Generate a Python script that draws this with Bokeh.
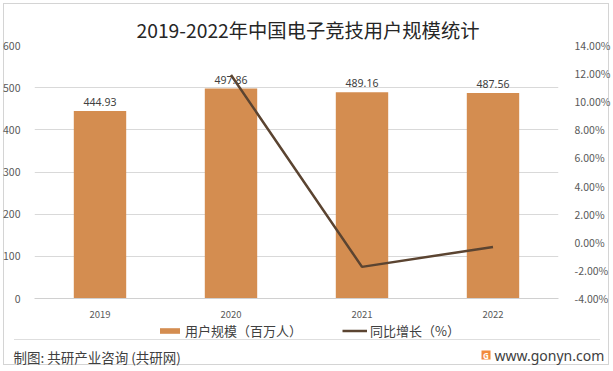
from bokeh.plotting import figure
from bokeh.layouts import column
from bokeh.models import (Range1d, LinearAxis, FactorRange, NumeralTickFormatter, FixedTicker,
                          Legend, LegendItem, ColumnDataSource)
from bokeh.core.properties import value
from bokeh.embed import file_html
from bokeh.resources import INLINE

# ---- data ----
years = ["2019", "2020", "2021", "2022"]
users = [444.93, 497.86, 489.16, 487.56]
growth_years = ["2020", "2021", "2022"]
growth = [0.1190, -0.0175, -0.0033]
left_ticks = [0, 100, 200, 300, 400, 500, 600]
right_ticks = [-0.04, -0.02, 0.0, 0.02, 0.04, 0.06, 0.08, 0.10, 0.12, 0.14]
title_text = "2019-2022年中国电子竞技用户规模统计"
series_names = ["用户规模（百万人）", "同比增长（%）"]
footer_left = "制图: 共研产业咨询 (共研网)"
footer_right = "www.gonyn.com"

BAR = "#d48d50"
LINE = "#5b4431"
CJK = "Noto Sans CJK SC"
LAT = "Noto Sans"
FRAME_C = "#d4d4d4"

W, H = 613, 371
MH = 322            # main chart height
BH = H - MH         # legend + footer strip height
FL, FR, FT, FB = 33, 560, 45, 298


def no_align(fig):
    if "frame_align" in fig.properties():
        fig.frame_align = False


# ---- main chart ----
p = figure(width=W, height=MH, x_range=FactorRange(*years, range_padding=0),
           y_range=Range1d(0, 600), output_backend="svg", toolbar_location=None,
           min_border_left=FL, min_border_right=W - FR, min_border_top=FT,
           min_border_bottom=MH - FB)
no_align(p)
p.extra_y_ranges = {"pct": Range1d(right_ticks[0], right_ticks[-1])}
p.outline_line_color = None
p.border_fill_color = None

p.title.text = title_text
p.title.align = "left"
p.title.offset = 102
p.title.text_font = CJK
p.title.text_font_size = "19.3px"
p.title.text_font_style = "normal"
p.title.text_color = "#262626"
p.title.standoff = 4

p.yaxis.ticker = FixedTicker(ticks=left_ticks)
for ax in [p.yaxis[0], p.xaxis[0]]:
    ax.major_tick_line_color = None
    ax.minor_tick_line_color = None
    ax.major_label_text_font = CJK
    ax.major_label_text_color = "#595959"
p.yaxis.axis_line_color = None
p.yaxis.major_label_text_font_size = "10.5px"
p.yaxis.major_label_standoff = 8
p.xaxis.axis_line_color = "#d0d0d0"
p.xaxis.major_label_text_font_size = "9.5px"
p.xaxis.major_label_standoff = 6

rax = LinearAxis(y_range_name="pct", ticker=FixedTicker(ticks=right_ticks),
                 formatter=NumeralTickFormatter(format="0.00%"))
rax.axis_line_color = None
rax.major_tick_line_color = None
rax.minor_tick_line_color = None
rax.major_label_text_font = CJK
rax.major_label_text_font_size = "10.5px"
rax.major_label_text_color = "#595959"
rax.major_label_standoff = 10
p.add_layout(rax, "right")

p.xgrid.grid_line_color = None
p.ygrid.grid_line_color = "#d9d9d9"

src = ColumnDataSource(dict(x=years, y=users, lab=[f"{v:.2f}" for v in users]))
p.vbar(x="x", top="y", width=0.4, source=src, fill_color=BAR, line_color=None)
p.text(x="x", y="y", text="lab", source=src, text_align="center", text_baseline="bottom",
       y_offset=-5, text_font_size="10.5px", text_color="#404040", text_font=value(LAT))
p.line(x=growth_years, y=growth, y_range_name="pct", line_color=LINE, line_width=2.5)

# ---- legend + footer strip ----
f = figure(width=W, height=BH, x_range=Range1d(0, W), y_range=Range1d(BH, 0),
           output_backend="svg", toolbar_location=None, min_border=0,
           x_axis_location=None, y_axis_location=None)
no_align(f)
f.grid.visible = False
f.outline_line_color = None
f.background_fill_color = None
f.border_fill_color = None

# hidden legend-key renderers (same styles as the chart's bars and line)
key_bar = f.vbar(x="y", top="y", width=1, source=src, fill_color=BAR, line_color=None,
                 visible=False)
key_line = f.line(x="y", y="y", source=src, line_color=LINE, line_width=2.5, visible=False)
leg_style = dict(orientation="horizontal", glyph_width=25, glyph_height=7, label_height=14,
                 label_standoff=3, padding=0, margin=0, border_line_color=None,
                 background_fill_alpha=0, inactive_fill_alpha=0, label_text_font=CJK,
                 label_text_font_size="13px", label_text_color="#404040")
f.add_layout(Legend(items=[LegendItem(label=series_names[0], renderers=[key_bar])],
                    location=(157, BH - 18), **leg_style))
f.add_layout(Legend(items=[LegendItem(label=series_names[1], renderers=[key_line])],
                    location=(342, BH - 18), **leg_style))

f.text(x=[13], y=[34], text=[footer_left], text_baseline="middle", text_align="left",
       text_font_size="13.5px", text_color="#404040", text_font=value(CJK))
f.quad(left=[481], right=[490], top=[28], bottom=[37], fill_color="#f28a3c", line_color=None)
f.text(x=[485.5], y=[32.6], text=["G"], text_baseline="middle", text_align="center",
       text_font_size="8px", text_font_style="bold", text_color="white",
       text_font=value(LAT))
f.text(x=[494], y=[32.5], text=[footer_right], text_baseline="middle", text_align="left",
       text_font_size="14px", text_color="#404040", text_font=value(LAT))

g = "linear-gradient(%s,%s)" % (FRAME_C, FRAME_C)
g2 = "linear-gradient(#dedede,#dedede)"
bg = ", ".join([
    g + " 3px 3px/606px 1px no-repeat",
    g + " 3px 364px/606px 1px no-repeat",
    g + " 3px 3px/1px 362px no-repeat",
    g + " 608px 3px/1px 362px no-repeat",
    g2 + " 14px 339px/586px 1px no-repeat",
])
layout = column(p, f, spacing=0, styles={"background": bg})

open("out.html", "w").write(file_html(layout, INLINE))
